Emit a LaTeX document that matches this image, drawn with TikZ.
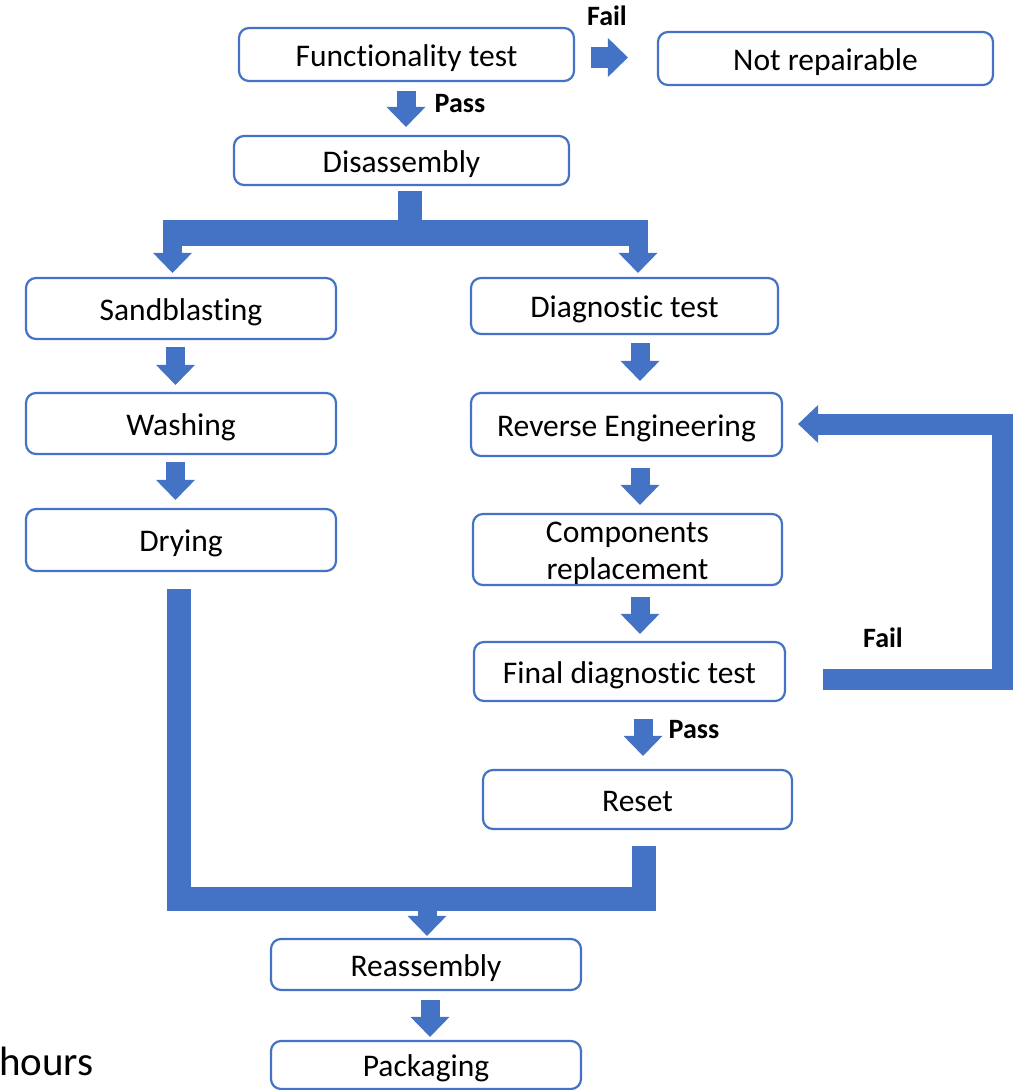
\documentclass[tikz,border=0pt]{standalone}
\usepackage{fontspec}
\setmainfont{Carlito}[Ligatures=NoCommon]
\usetikzlibrary{arrows.meta,calc}
\definecolor{ob}{HTML}{4472C4}
\begin{document}
\begin{tikzpicture}[x=1pt,y=-1pt,
  boxbase/.style={draw=ob, line width=2.2pt, rounded corners=10pt, fill=white, inner sep=0pt,
    font=\fontsize{31.5}{37}\selectfont},
  box/.style={boxbase, text height=23pt, text depth=0pt},
  blk/.style={draw=ob, line width=19pt, -{Triangle[width=39pt,length=20pt,line width=0pt]}},
  bar/.style={draw=ob, line width=#1, line join=miter},
  lbl/.style={font=\bfseries\fontsize{28}{32}\selectfont, inner sep=0pt}]
\useasboundingbox (0,0) rectangle (1017,1090);

% boxes
\node[box, minimum width=335pt, minimum height=53pt] (func) at (406.5,54.5) {Functionality test};
\node[box, minimum width=335pt, minimum height=53pt] (notrep) at (825.5,58.5) {Not repairable};
\node[box, minimum width=335pt, minimum height=49pt] (disasm) at (401.5,160.5) {Disassembly};
\node[box, minimum width=310pt, minimum height=61pt] (sand) at (181,308.5) {Sandblasting};
\node[box, minimum width=310pt, minimum height=61pt] (wash) at (181,423.5) {Washing};
\node[box, minimum width=310pt, minimum height=62pt] (dry) at (181,540) {Drying};
\node[box, minimum width=307pt, minimum height=56pt] (diag) at (624.5,306) {Diagnostic test};
\node[box, minimum width=311pt, minimum height=63pt] (reveng) at (626.5,424.5) {Reverse Engineering};
\node[boxbase, align=center, minimum width=309pt, minimum height=69pt] (comp) at (627.5,549.5) {\rule{0pt}{29pt}Components\\replacement};
\node[box, minimum width=311pt, minimum height=59pt] (final) at (629.5,671.5) {Final diagnostic test};
\node[box, minimum width=309pt, minimum height=59pt] (reset) at (637.5,799.5) {Reset};
\node[box, minimum width=310pt, minimum height=51pt] (reasm) at (426,964.5) {Reassembly};
\node[box, minimum width=310pt, minimum height=48pt] (pack) at (426,1065) {Packaging};

% labels
\node[lbl] (failA) at (607,16) {Fail};
\node[lbl] (passA) at (460,103.5) {Pass};
\node[lbl] (passB) at (694,729.5) {Pass};
\node[lbl] (failB) at (883,638) {Fail};
\node[anchor=base west, inner sep=0pt, font=\fontsize{41}{48}\selectfont] (hours) at (-1,1075) {hours};

% simple block arrows
\draw[blk, line width=21pt] ($(func.east)+(16,3)$) -- ($(notrep.west)+(-29,-1)$);
\draw[blk] ($(func.south)+(-0.5,9)$) -- ($(disasm.north)+(4.5,-8)$);
\draw[blk] ($(sand.south)+(-5.5,7)$) -- ($(wash.north)+(-5.5,-7)$);
\draw[blk] ($(wash.south)+(-5.5,7)$) -- ($(dry.north)+(-5.5,-8)$);
\draw[blk] ($(diag.south)+(15.5,8)$) -- ($(reveng.north)+(13.5,-11)$);
\draw[blk] ($(reveng.south)+(13.5,11)$) -- ($(comp.north)+(12.5,-8)$);
\draw[blk] ($(comp.south)+(12.5,11)$) -- ($(final.north)+(10.5,-7)$);
\draw[blk] ($(final.south)+(13.5,17)$) -- ($(reset.north)+(5.5,-13)$);
\draw[blk] ($(reasm.south)+(4,9)$) -- ($(pack.north)+(4,-3)$);

% split below Disassembly
\coordinate (sl) at (163,233);
\coordinate (sr) at (648,233);
\draw[bar=24pt] ($(disasm.south)+(8.5,5)$) -- (410,233);
\draw[bar=26pt] (sl) -- (sr);
\draw[blk] (172.5,233) -- ($(sand.north)+(-8.5,-4)$);
\draw[blk] (638,233) -- ($(diag.north)+(13.5,-4)$);

% fail loop
\draw[bar=21pt, -{Triangle[width=38pt,length=20pt,line width=0pt]}]
  ($(final.east)+(37,7.5)$) -- (1002.5,679) -- (1002.5,424) -- ($(reveng.east)+(15,-0.5)$);

% merge into Reassembly
\coordinate (ml) at (178.5,898.5);
\coordinate (mr) at (644,898.5);
\draw[bar=24pt] ($(dry.south)+(-2.5,17)$) -- (ml) -- (mr) -- ($(reset.south)+(6.5,16)$);
\draw[blk] (427,905) -- ($(reasm.north)+(1,-2)$);
\end{tikzpicture}
\end{document}
